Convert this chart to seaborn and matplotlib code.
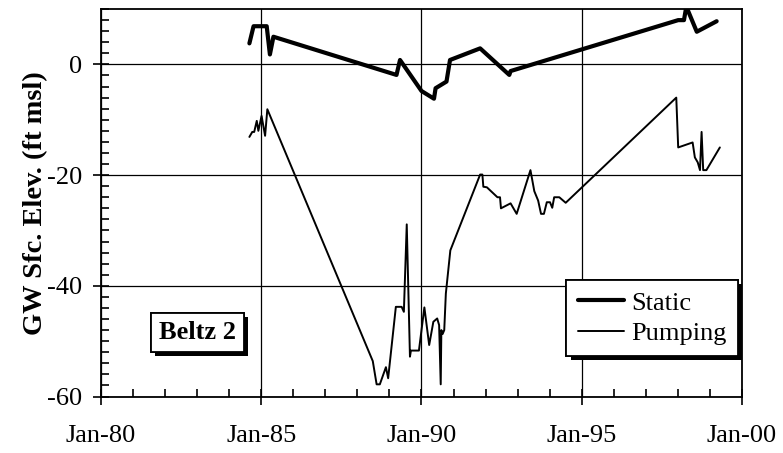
import matplotlib
matplotlib.use("Agg")
import matplotlib.pyplot as plt
import matplotlib.patheffects as pe
from matplotlib.ticker import MultipleLocator
import numpy as np
import pandas as pd
import seaborn as sns

# Static water level (ft msl), decimal years
static_year = [1984.63, 1984.76, 1985.17, 1985.27, 1985.38, 1989.22, 1989.33,
               1990.00, 1990.39, 1990.44, 1990.78, 1990.89, 1991.83, 1992.74,
               1992.78, 1998.01, 1998.19, 1998.25, 1998.31, 1998.59, 1999.21]
static_elev = [3.8, 6.9, 6.9, 1.8, 5.0, -1.9, 0.8,
               -4.8, -6.2, -4.3, -3.1, 0.8, 2.9, -1.9,
               -1.2, 8.0, 8.0, 10.0, 9.8, 5.9, 7.8]

# Pumping water level (ft msl), decimal years
pump_year = [1984.63, 1984.72, 1984.78, 1984.86, 1984.91, 1985.01, 1985.12, 1985.19,
             1988.48, 1988.60, 1988.70, 1988.89, 1988.96, 1989.20, 1989.38, 1989.45,
             1989.54, 1989.64, 1989.67, 1989.92, 1990.09, 1990.24, 1990.37, 1990.49,
             1990.55, 1990.60, 1990.62, 1990.66, 1990.71, 1990.76, 1990.90, 1991.83,
             1991.90, 1991.93, 1992.04, 1992.37, 1992.45, 1992.48, 1992.78, 1992.97,
             1993.40, 1993.52, 1993.64, 1993.73, 1993.82, 1993.91, 1994.01, 1994.08,
             1994.14, 1994.30, 1994.50, 1997.95, 1998.01, 1998.46, 1998.53, 1998.62,
             1998.69, 1998.74, 1998.79, 1998.89, 1999.31]
pump_elev = [-13.1, -12.2, -12.2, -10.2, -12.0, -9.3, -12.9, -8.1,
             -53.6, -57.8, -57.8, -54.7, -56.7, -43.8, -43.8, -44.7,
             -28.9, -52.8, -51.7, -51.7, -43.9, -50.7, -46.5, -45.9,
             -47.1, -57.8, -48.0, -48.7, -48.0, -41.4, -33.6, -19.9,
             -19.9, -22.1, -22.2, -24.0, -24.0, -26.0, -25.1, -27.0,
             -19.1, -22.9, -24.6, -27.0, -27.0, -24.9, -24.9, -25.9,
             -24.0, -24.0, -25.0, -6.0, -15.0, -14.1, -16.8, -17.7,
             -19.1, -12.2, -19.1, -19.1, -15.0]

x_ticks = [1980, 1985, 1990, 1995, 2000]
x_labels = ["Jan-80", "Jan-85", "Jan-90", "Jan-95", "Jan-00"]
y_ticks = [-60, -40, -20, 0]

sns.set_theme(style="white")
plt.rcParams["font.family"] = ["Liberation Serif", "DejaVu Serif"]

fig = plt.figure(figsize=(7.83, 4.53), dpi=100)
ax = fig.add_axes([0.129, 0.1247, 0.8186, 0.8553])

static_df = pd.DataFrame({"year": static_year, "elev": static_elev})
pump_df = pd.DataFrame({"year": pump_year, "elev": pump_elev})

sns.lineplot(data=static_df, x="year", y="elev", ax=ax, color="black",
             linewidth=3.0, sort=False, label="Static", zorder=4)
sns.lineplot(data=pump_df, x="year", y="elev", ax=ax, color="black",
             linewidth=1.4, sort=False, label="Pumping", zorder=3)

ax.set_xlim(1980, 2000)
ax.set_ylim(-60, 10)
ax.set_xticks(x_ticks)
ax.set_xticklabels(x_labels)
ax.set_yticks(y_ticks)
ax.set_yticklabels([str(v) for v in y_ticks])
ax.xaxis.set_minor_locator(MultipleLocator(1))
ax.yaxis.set_minor_locator(MultipleLocator(2))

ax.tick_params(axis="both", which="major", direction="inout", length=11,
               width=1.2, color="black", labelsize=19, labelcolor="black")
ax.tick_params(axis="x", which="major", pad=15)
ax.tick_params(axis="y", which="major", pad=8)
ax.tick_params(axis="both", which="minor", direction="in", length=6,
               width=1.2, color="black")
ax.tick_params(bottom=True, left=True, top=False, right=False,
               which="both")

ax.grid(True, which="major", color="black", linewidth=0.9)
ax.set_axisbelow(True)
for s in ax.spines.values():
    s.set_color("black")
    s.set_linewidth(1.3)

ax.set_xlabel("")
ax.set_ylabel("GW Sfc. Elev. (ft msl)", fontsize=20.5, fontweight="bold",
              color="black")
ax.yaxis.set_label_coords(-0.083, 0.5)

shadow = [pe.withSimplePatchShadow(offset=(3, -3), shadow_rgbFace="black",
                                   alpha=1.0), pe.Normal()]

leg = ax.legend(loc="lower right", bbox_to_anchor=(0.994, 0.105),
                borderaxespad=0, fontsize=19, frameon=True, fancybox=False,
                handlelength=1.75, handletextpad=0.3, labelspacing=0.25,
                borderpad=0.42)
frame = leg.get_frame()
frame.set_edgecolor("black")
frame.set_linewidth(1.3)
frame.set_facecolor("white")
frame.set_alpha(1)
frame.set_path_effects(shadow)
for t in leg.get_texts():
    t.set_color("black")
leg.set_zorder(10)

txt = ax.text(0.15, 0.166, "Beltz 2", transform=ax.transAxes, fontsize=19,
              fontweight="bold", ha="center", va="center", color="black",
              zorder=10,
              bbox=dict(boxstyle="square,pad=0.3", facecolor="white",
                        edgecolor="black", linewidth=1.3))
txt.get_bbox_patch().set_path_effects(shadow)

fig.savefig("out.png", dpi=100, facecolor="white")
